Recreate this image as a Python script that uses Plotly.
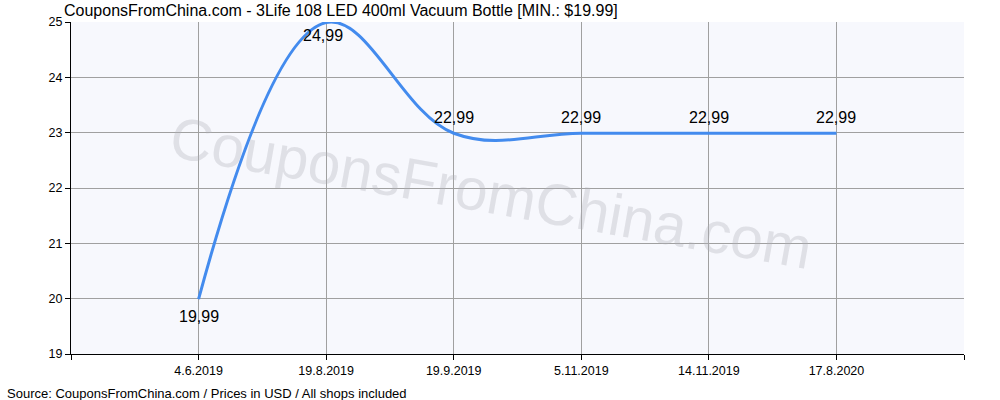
import plotly.graph_objects as go

categories = ["4.6.2019", "19.8.2019", "19.9.2019", "5.11.2019", "14.11.2019", "17.8.2020"]
prices = [19.99, 24.99, 22.99, 22.99, 22.99, 22.99]
label_pos = ["below", "below_top", "above", "above", "above", "above"]
y_ticks = [19, 20, 21, 22, 23, 24, 25]

xs = list(range(len(categories)))
FONT = "Liberation Sans, Arial, sans-serif"
SHIFTS = {"below": -17, "below_top": -13, "above": 16}

fig = go.Figure()
fig.add_trace(go.Scatter(
    x=xs, y=prices, mode="lines",
    line=dict(color="#438BEE", width=3, shape="spline", smoothing=1.1),
    hoverinfo="skip", showlegend=False,
))

for x, v, pos in zip(xs, prices, label_pos):
    fig.add_annotation(
        x=x, y=v, xref="x", yref="y", text=f"{v:.2f}".replace(".", ","),
        showarrow=False, font=dict(family=FONT, size=16, color="black"),
        yshift=SHIFTS[pos], xshift=(-3 if pos == "below_top" else 0),
    )
fig.add_annotation(
    x=0.470, y=0.485, xref="paper", yref="paper", text="CouponsFromChina.com",
    showarrow=False, textangle=10,
    font=dict(family=FONT, size=58.5, color="rgba(175,175,185,0.33)"),
)
fig.add_annotation(
    x=-71/893, y=1, xref="paper", yref="paper", xanchor="left", yanchor="middle",
    text="CouponsFromChina.com - 3Life 108 LED 400ml Vacuum Bottle [MIN.: $19.99]",
    showarrow=False, font=dict(family=FONT, size=16, color="black"), xshift=62, yshift=12,
)
fig.add_annotation(
    x=-71/893, y=0, xref="paper", yref="paper", xanchor="left", yanchor="middle",
    text="Source: CouponsFromChina.com / Prices in USD / All shops included",
    showarrow=False, font=dict(family=FONT, size=13, color="black"), xshift=5, yshift=-39,
)
fig.update_layout(
    width=1000, height=400,
    margin=dict(l=71, r=36, t=22, b=46),
    paper_bgcolor="white", plot_bgcolor="#F7F8FD",
    font=dict(family=FONT, size=12, color="black"),
)
fig.update_xaxes(
    range=[-1, 6], tickvals=xs, ticktext=categories,
    showgrid=True, gridcolor="#A0A0A0", gridwidth=1,
    showline=True, linecolor="black", linewidth=1,
    ticks="outside", ticklen=5, tickcolor="black",
    minor=dict(tickvals=[-1, 6], ticks="outside", ticklen=5, tickcolor="black", showgrid=False),
    zeroline=False, tickfont=dict(size=12.5, family=FONT),
)
fig.update_yaxes(
    range=[19, 25], tickvals=y_ticks,
    showgrid=True, gridcolor="#A0A0A0", gridwidth=1,
    showline=True, linecolor="black", linewidth=1,
    ticks="outside", ticklen=5, tickcolor="black",
    zeroline=False, tickfont=dict(size=12.5, family=FONT),
)
fig.write_html("out.html", config={"displayModeBar": False},
               post_script="document.body.style.margin='0';document.body.style.padding='0';")
